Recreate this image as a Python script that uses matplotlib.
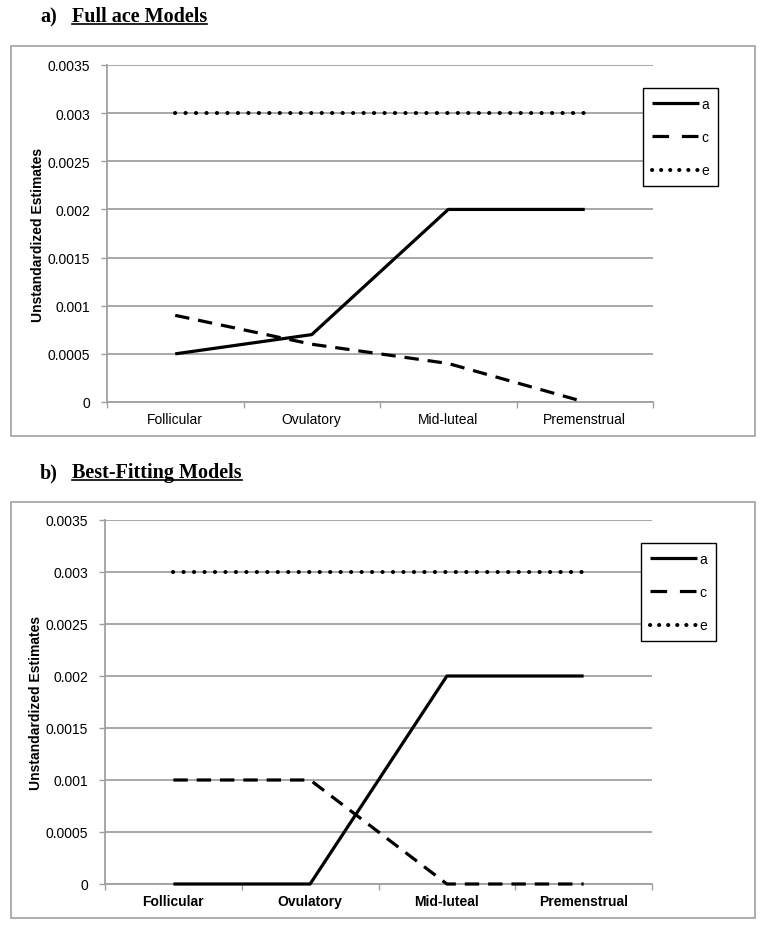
import numpy as np
import matplotlib
matplotlib.use('Agg')
import matplotlib.pyplot as plt
from matplotlib.patches import Rectangle
from matplotlib.lines import Line2D

# data
phases = ['Follicular', 'Ovulatory', 'Mid-luteal', 'Premenstrual']
full_a = [0.0005, 0.0007, 0.002, 0.002]
full_c = [0.0009, 0.0006, 0.0004, 0.0]
full_e = [0.003, 0.003, 0.003, 0.003]
best_a = [0.0, 0.0, 0.002, 0.002]
best_c = [0.001, 0.001, 0.0, 0.0]
best_e = [0.003, 0.003, 0.003, 0.003]
ytick_vals = [0, 0.0005, 0.001, 0.0015, 0.002, 0.0025, 0.003, 0.0035]
ytick_txt = ['0', '0.0005', '0.001', '0.0015', '0.002', '0.0025', '0.003', '0.0035']

W, H = 764, 929
plt.rcParams['font.family'] = 'Liberation Sans'
grey = '#a0a0a0'

fig = plt.figure(figsize=(W / 100, H / 100), dpi=100)


def px(x0, y0, x1, y1):
    # pixel box (top-left origin) -> figure fraction [l, b, w, h]
    return [x0 / W, 1 - y1 / H, (x1 - x0) / W, (y1 - y0) / H]


def panel(box, a, c, e, bold_x, leg_xy):
    ax = fig.add_axes(px(*box))
    x = np.arange(len(phases))
    ax.plot(x, a, color='black', lw=2.3, solid_capstyle='butt', clip_on=False, zorder=3)
    ax.plot(x, c, color='black', lw=2.3, linestyle=(0, (4.5, 2.8)), dash_capstyle='butt',
            clip_on=False, zorder=3)
    ax.plot(x, e, color='black', lw=2.9, linestyle=(0, (0.05, 2.55)), dash_capstyle='round',
            clip_on=False, zorder=3)
    ax.set_xlim(-0.5, len(phases) - 0.5)
    ax.set_ylim(0, 0.0035)
    ax.set_yticks(ytick_vals)
    ax.set_yticklabels(ytick_txt, fontsize=10)
    ax.yaxis.grid(True, color=grey, lw=1.3)
    ax.set_axisbelow(True)
    ax.set_xticks(np.arange(len(phases) + 1) - 0.5)
    ax.set_xticklabels([])
    ax.set_xticks(x, minor=True)
    ax.set_xticklabels(phases, minor=True, fontsize=10,
                       fontweight='bold' if bold_x else 'normal')
    ax.tick_params(axis='x', which='minor', length=0, pad=7)
    ax.tick_params(axis='x', which='major', length=4, color=grey, width=1)
    ax.tick_params(axis='y', length=4, color=grey, width=1, pad=8)
    for s in ['top', 'right']:
        ax.spines[s].set_visible(False)
    for s in ['left', 'bottom']:
        ax.spines[s].set_color(grey)
        ax.spines[s].set_linewidth(1.3)
    ax.set_ylabel('Unstandardized Estimates', fontsize=10, fontweight='bold')
    ax.yaxis.set_label_coords(-0.113, 0.5)

    # legend keys drawn with their own dash spacing, like the original
    keys = [Line2D([], [], color='black', lw=2.3, solid_capstyle='butt'),
            Line2D([], [], color='black', lw=2.3, linestyle=(0, (5.2, 4.0)), dash_capstyle='butt'),
            Line2D([], [], color='black', lw=2.9, linestyle=(0, (0.05, 2.2)), dash_capstyle='round')]
    leg = ax.legend(keys, ['a', 'c', 'e'], loc='upper left',
                    bbox_to_anchor=(leg_xy[0] / W, 1 - leg_xy[1] / H),
                    bbox_transform=fig.transFigure, fontsize=10, frameon=True,
                    fancybox=False, borderpad=0.65, handlelength=3.4,
                    handletextpad=0.15, labelspacing=1.38, borderaxespad=0)
    leg.get_frame().set_edgecolor('black')
    leg.get_frame().set_linewidth(1.0)
    leg.get_frame().set_alpha(1)
    leg.set_zorder(5)
    return ax


panel((107, 66, 653, 403), full_a, full_c, full_e, False, (643, 89))
panel((105, 521, 652, 885), best_a, best_c, best_e, True, (641, 544))

# grey frames around each panel
fig.add_artist(Rectangle((11 / W, 1 - 437 / H), 744 / W, 390 / H, transform=fig.transFigure,
                         fill=False, edgecolor=grey, lw=1.2))
fig.add_artist(Rectangle((11 / W, 1 - 919 / H), 744 / W, 416 / H, transform=fig.transFigure,
                         fill=False, edgecolor=grey, lw=1.2))

# panel headings, underlined part drawn by hand
titles = [('a)', 'Full ace Models', 22), ('b)', 'Best-Fitting Models', 478)]
heads = []
for tag, name, base in titles:
    fig.text(40 / W, 1 - base / H, tag, fontsize=14.5, fontweight='bold',
             family='Liberation Serif', va='baseline')
    t = fig.text(72 / W, 1 - base / H, name, fontsize=14.5, fontweight='bold',
                 family='Liberation Serif', va='baseline')
    heads.append((t, base))

fig.canvas.draw()
for t, base in heads:
    bb = t.get_window_extent()
    yy = 1 - (base + 3) / H
    fig.add_artist(Line2D([bb.x0 / W, bb.x1 / W], [yy, yy], transform=fig.transFigure,
                          color='black', lw=1.2))

fig.savefig('out.png', dpi=100)
